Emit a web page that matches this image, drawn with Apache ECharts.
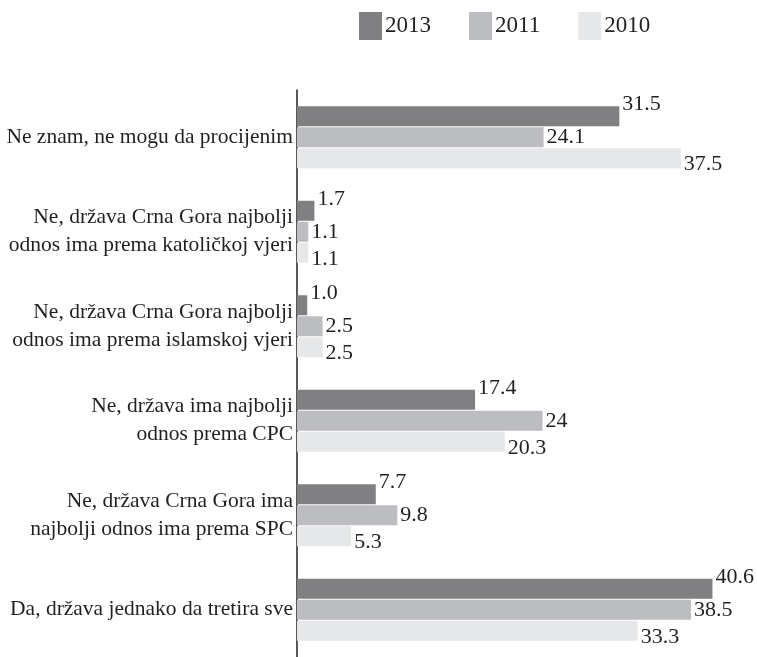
<!DOCTYPE html>
<html lang="sr">
<head>
    <meta charset="UTF-8">
    <title>Odnos države prema vjerskim zajednicama</title>
    <script src="https://cdn.jsdelivr.net/npm/echarts@6/dist/echarts.min.js"></script>
    <style>
        html, body { margin: 0; padding: 0; background: #fff; }
        #chart { width: 757px; height: 657px; }
    </style>
</head>
<body>
    <div id="chart"></div>
<script>
    // kategorije odozgo prema dolje
    var categories = [
        'Ne znam, ne mogu da procijenim',
        'Ne, država Crna Gora najbolji\nodnos ima prema katoličkoj vjeri',
        'Ne, država Crna Gora najbolji\nodnos ima prema islamskoj vjeri',
        'Ne, država ima najbolji\nodnos prema CPC',
        'Ne, država Crna Gora ima\nnajbolji odnos ima prema SPC',
        'Da, država jednako da tretira sve'
    ];
    var years = ['2013', '2011', '2010'];
    // vrijednosti kao tekst, da se zadrzi "1.0" na oznakama
    var values2013 = ['31.5', '1.7', '1.0', '17.4', '7.7', '40.6'];
    var values2011 = ['24.1', '1.1', '2.5', '24', '9.8', '38.5'];
    var values2010 = ['37.5', '1.1', '2.5', '20.3', '5.3', '33.3'];

    var colors = ['#808083', '#bcbdc0', '#e6e7e8'];
    var labelOffsets = [[0, -12], [0, 0], [0, 6]];
    var font = '"Liberation Serif", serif';
    var txt = '#231f20';

    var chart = echarts.init(document.getElementById('chart'), null, {renderer: 'canvas'});

    function makeSeries(i, data) {
        return {
            name: years[i],
            type: 'bar',
            data: data.map(Number),
            barWidth: 20,
            barGap: '5%',
            itemStyle: { color: colors[i] },
            label: {
                show: true,
                position: 'right',
                distance: 3,
                offset: labelOffsets[i],
                color: txt,
                fontFamily: font,
                fontSize: 22,
                formatter: function (p) { return data[p.dataIndex]; }
            },
            emphasis: { disabled: true }
        };
    }

    var option = {
        animation: false,
        textStyle: { fontFamily: font },
        legend: {
            data: years,
            left: 354,
            top: 7,
            itemWidth: 23,
            itemHeight: 28,
            itemGap: 38,
            icon: 'rect',
            textStyle: { fontFamily: font, fontSize: 23, color: txt, padding: [0, 0, 0, -2] }
        },
        grid: {
            left: 297,
            top: 90,
            width: 440,
            height: 571
        },
        xAxis: {
            type: 'value',
            min: 0,
            max: 43,
            show: false
        },
        yAxis: {
            type: 'category',
            data: categories,
            inverse: true,
            axisLine: { show: true, lineStyle: { color: '#231f20', width: 1.5 } },
            axisTick: { show: false },
            axisLabel: {
                margin: 4,
                color: txt,
                fontFamily: font,
                fontSize: 21.5,
                lineHeight: 28,
                align: 'right'
            }
        },
        series: [
            makeSeries(0, values2013),
            makeSeries(1, values2011),
            makeSeries(2, values2010)
        ]
    };
    chart.setOption(option);
</script>
</body>
</html>
